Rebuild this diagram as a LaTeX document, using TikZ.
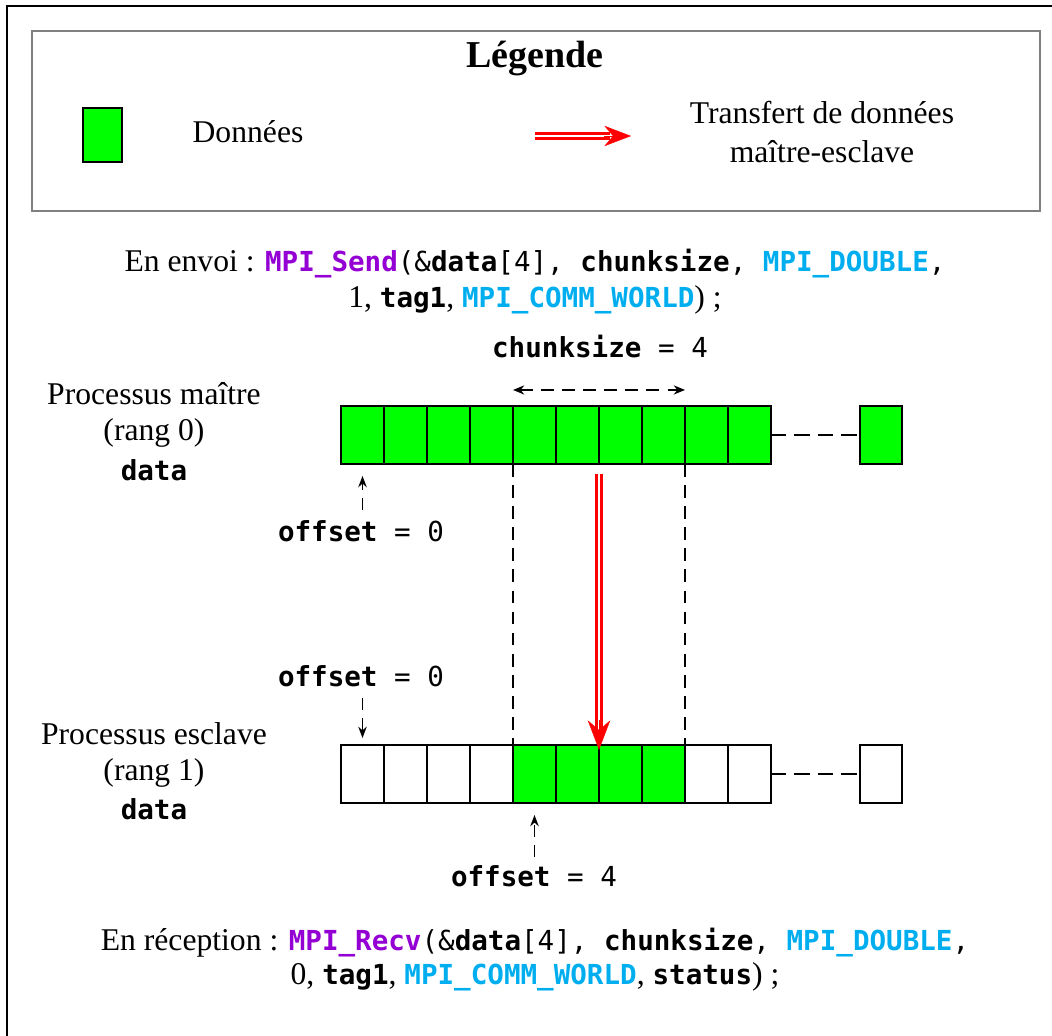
\documentclass[tikz,border=0pt]{standalone}
\usepackage{fontspec}
\setmainfont{Liberation Serif}
\newfontfamily\monof{DejaVu Sans Mono}
\usetikzlibrary{arrows.meta}
\definecolor{mpipurple}{RGB}{148,0,211}
\definecolor{mpicyan}{RGB}{0,174,239}
\definecolor{datagreen}{RGB}{0,255,0}
\definecolor{framegray}{RGB}{128,128,128}
\newcommand\serifsz{\fontsize{22.5pt}{27pt}\selectfont}
\newcommand\cdr[1]{{\monof\fontsize{19.6pt}{24pt}\selectfont #1}}
\newcommand\cdb[1]{{\monof\bfseries\fontsize{19.6pt}{24pt}\selectfont #1}}
\begin{document}
\begin{tikzpicture}[x=0.025cm, y=-0.025cm,
  txt/.style={font=\serifsz, inner sep=0pt, anchor=base},
  cell/.style={draw=black, line width=1.5pt, minimum width=1.075cm, minimum height=1.45cm, inner sep=0pt, outer sep=0pt},
  full/.style={cell, fill=datagreen},
  blank/.style={cell, fill=white},
  gapline/.style={line width=1.5pt, dash pattern=on 11pt off 5.7pt},
  guide/.style={line width=1.5pt, dash pattern=on 9pt off 6pt},
  span/.style={line width=1.3pt, dash pattern=on 9pt off 6pt, {Stealth[length=8pt,width=6.5pt]}-{Stealth[length=8pt,width=6.5pt]}},
  offarrow/.style={line width=1.3pt, dash pattern=on 8.5pt off 5.7pt, -{Stealth[length=8pt,width=6pt]}},
  redshaft/.style={draw=red, line width=5pt, shorten >=15pt},
  redgap/.style={draw=white, line width=1.6pt, shorten >=15pt},
  redtip/.style={draw=red, fill=red, line width=0.3pt, -{Stealth[length=#1]}},
]
\useasboundingbox (0,0) rectangle (1052,1036);
% outer frame
\draw[line width=1.4pt] (7,1040) -- (7,6) -- (1056,6);
% legend
\draw[draw=framegray, line width=2.1pt] (32,31) rectangle (1040,211);
\node[txt, font=\bfseries\fontsize{27pt}{32pt}\selectfont] (leg) at (535,68) {Légende};
\node[full, minimum width=0.975cm, minimum height=1.35cm] (lgbox) at (102.5,135) {};
\node[txt] (lgdata) at (248,143) {Données};
\node[txt] (lgtr1) at (822,124) {Transfert de données};
\node[txt] (lgtr2) at (822,163) {maître-esclave};
\coordinate (la) at (535,136);
\coordinate (lb) at (631,136);
\draw[redshaft] (la) -- (lb);
\draw[redgap] (la) -- (lb);
\draw[draw=red, line width=0.3pt, -{Stealth[length=19pt,width=14.5pt]}] ([xshift=-19pt]lb) -- (lb);
% send text
\node[txt] (send1) at (535,272) {En envoi : \cdb{\color{mpipurple}MPI\_Send}\cdr{(\&}\cdb{data}\cdr{[4], }\cdb{chunksize}\cdr{, }\cdb{\color{mpicyan}MPI\_DOUBLE}\cdr{,}};
\node[txt] (send2) at (535,308) {1, \cdb{tag1}, \cdb{\color{mpicyan}MPI\_COMM\_WORLD}) ;};
\node[txt] (csz) at (600,358) {\cdb{chunksize}\cdr{ = 4}};
% side labels
\node[txt] (pm1) at (154,405) {Processus maître};
\node[txt] (pm2) at (154,441) {(rang 0)};
\node[txt] (pm3) at (154,480) {\cdb{data}};
\node[txt] (ps1) at (154,744) {Processus esclave};
\node[txt] (ps2) at (154,780) {(rang 1)};
\node[txt] (ps3) at (154,819) {\cdb{data}};
% master array
\foreach \i in {0,...,9} \node[full] (m\i) at ({362.5+43*\i},435) {};
\node[full, minimum width=1.05cm] (mL) at (881,435) {};
\draw[gapline] (m9.east) -- (mL.west);
% slave array
\foreach \i/\st in {0/blank,1/blank,2/blank,3/blank,4/full,5/full,6/full,7/full,8/blank,9/blank}
  \node[\st] (s\i) at ({362.5+43*\i},774) {};
\node[blank, minimum width=1.05cm] (sL) at (881,774) {};
\draw[gapline] (s9.east) -- (sL.west);
% chunk span
\draw[span] ([yshift=11.4pt]m4.north west) -- ([yshift=11.4pt]m7.north east);
% guides
\draw[guide] (m4.south west) -- (s4.north west);
\draw[guide] (m7.south east) -- (s7.north east);
% transfer arrow
\coordinate (ta) at ([yshift=-7pt]m5.south east);
\coordinate (tb) at ([yshift=-3.5pt]s5.north east);
\draw[redshaft] (ta) -- (tb);
\draw[redgap] (ta) -- (tb);
\draw[draw=red, line width=0.3pt, -{Stealth[length=21pt,width=16pt]}] ([yshift=21pt]tb) -- (tb);
% offsets
\node[txt] (off1) at (361,541) {\cdb{offset}\cdr{ = 0}};
\draw[offarrow, shorten <=7pt, shorten >=8.5pt] (off1.north -| m0.south) -- (m0.south);
\node[txt] (off2) at (361,686) {\cdb{offset}\cdr{ = 0}};
\draw[offarrow, shorten <=7.8pt, shorten >=5pt] (off2.south -| s0.north) -- (s0.north);
\node[txt] (off3) at (534,886) {\cdb{offset}\cdr{ = 4}};
\draw[offarrow, shorten <=5.7pt, shorten >=8.5pt] (off3.north -| s4.south) -- (s4.south);
% recv text
\node[txt] (recv1) at (535,950) {En réception : \cdb{\color{mpipurple}MPI\_Recv}\cdr{(\&}\cdb{data}\cdr{[4], }\cdb{chunksize}\cdr{, }\cdb{\color{mpicyan}MPI\_DOUBLE}\cdr{,}};
\node[txt] (recv2) at (535,984) {0, \cdb{tag1}, \cdb{\color{mpicyan}MPI\_COMM\_WORLD}, \cdb{status}) ;};
\end{tikzpicture}
\end{document}
